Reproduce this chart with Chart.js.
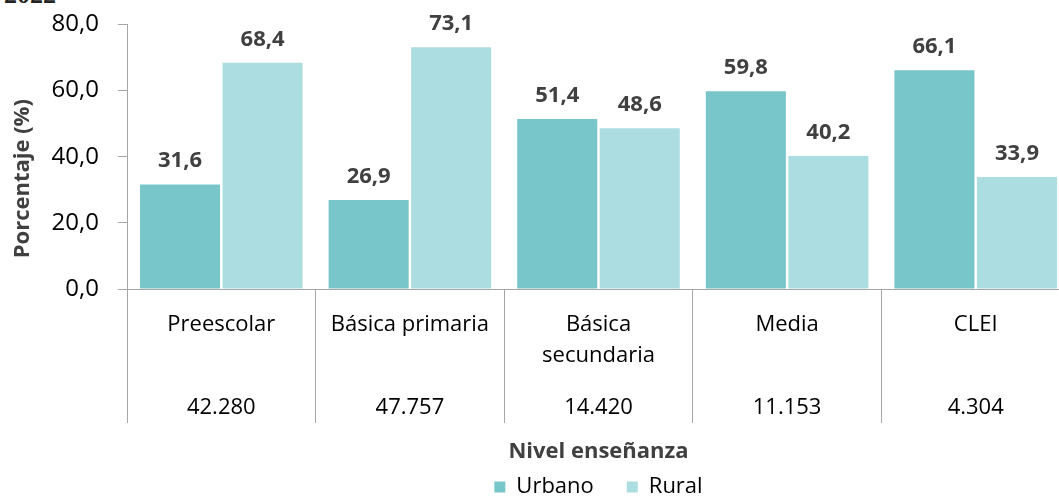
<!DOCTYPE html>
<html>
<head>
<meta charset="utf-8">
<script src="https://cdn.jsdelivr.net/npm/chart.js@4.4.1/dist/chart.umd.min.js"></script>
<style>
    html, body { margin: 0; padding: 0; background: #fff; overflow: hidden; }
    #wrap { position: relative; width: 1059px; height: 497px; overflow: hidden; }
    #chart { position: absolute; left: 0; top: -9px; }
    #cut { position: absolute; left: 4px; top: -20px; font: bold 26px 'Liberation Serif', serif; color: #222; }
</style>
</head>
<body>
<div id="wrap">
    <div id="cut">2022</div>
    <canvas id="chart" width="1072" height="517"></canvas>
</div>
<script>
// data
let categories = ['Preescolar', 'Básica primaria', ['Básica', 'secundaria'], 'Media', 'CLEI'];
let totals = ['42.280', '47.757', '14.420', '11.153', '4.304'];
let urbano = [31.6, 26.9, 51.4, 59.8, 66.1];
let rural = [68.4, 73.1, 48.6, 40.2, 33.9];
let yTicks = [0, 20, 40, 60, 80];

const axisGray = '#a6a6a6';
Chart.defaults.font.family = "'Open Sans', sans-serif";

function fmt(v) {
    return v.toFixed(1).replace('.', ',');
}

// value labels above each bar
const barLabels = {
    id: 'barLabels',
    afterDatasetsDraw(chart) {
        const ctx = chart.ctx;
        ctx.save();
        ctx.font = "bold 22px 'Open Sans', sans-serif";
        ctx.fillStyle = '#404040';
        ctx.textAlign = 'center';
        ctx.textBaseline = 'alphabetic';
        chart.data.datasets.forEach((ds, i) => {
            chart.getDatasetMeta(i).data.forEach((bar, j) => {
                ctx.fillText(fmt(ds.data[j]), bar.x, bar.y - 17);
            });
        });
        ctx.restore();
    }
};

new Chart(document.getElementById('chart'), {
    type: 'bar',
    data: {
        labels: categories,
        datasets: [
            { label: 'Urbano', data: urbano, backgroundColor: '#78c6ca', borderWidth: 0 },
            { label: 'Rural', data: rural, backgroundColor: '#acdde1', borderWidth: 0 }
        ]
    },
    options: {
        responsive: false,
        animation: false,
        categoryPercentage: 0.875,
        barPercentage: 0.97,
        layout: { padding: { top: 24, right: 2, left: 0, bottom: 0 } },
        plugins: {
            legend: {
                position: 'bottom',
                fullSize: false,
                labels: {
                    font: { size: 22 },
                    color: '#000',
                    boxWidth: 11,
                    boxHeight: 11,
                    padding: 33
                }
            },
            tooltip: { enabled: false }
        },
        scales: {
            y: {
                min: 0,
                max: 80,
                afterFit(scale) { scale.width = 127; },
                afterBuildTicks(scale) { scale.ticks = yTicks.map(v => ({ value: v })); },
                ticks: {
                    font: { size: 24 },
                    color: '#000',
                    padding: 19,
                    callback: v => fmt(v)
                },
                grid: { drawOnChartArea: false, drawTicks: true, tickLength: 9, color: axisGray },
                border: { color: axisGray },
                title: {
                    display: true,
                    // trailing spaces push the title a bit below the axis centre, as in the reference
                    text: 'Porcentaje (%)\u2003\u2003',
                    font: { size: 22, weight: 'bold' },
                    color: '#404040',
                    padding: { top: 10, bottom: 0 }
                }
            },
            x: {
                afterFit(scale) { scale.height = 82; },
                ticks: {
                    font: { size: 22, lineHeight: 1.41 },
                    color: '#000',
                    padding: -113.5,
                    maxRotation: 0,
                    autoSkip: false
                },
                grid: { offset: true, drawOnChartArea: false, drawTicks: true, tickLength: 134, color: axisGray },
                border: { color: axisGray }
            },
            x2: {
                type: 'category',
                labels: totals,
                position: 'bottom',
                offset: true,
                afterFit(scale) { scale.height = 72; },
                ticks: {
                    font: { size: 22, lineHeight: 1.41 },
                    color: '#000',
                    padding: 21.5,
                    maxRotation: 0,
                    autoSkip: false
                },
                grid: { display: false, drawTicks: false },
                border: { display: false },
                title: {
                    display: true,
                    text: 'Nivel enseñanza',
                    font: { size: 22, weight: 'bold' },
                    color: '#404040',
                    padding: { top: 17, bottom: -21.5 }
                }
            }
        }
    },
    plugins: [barLabels]
});
</script>
</body>
</html>
